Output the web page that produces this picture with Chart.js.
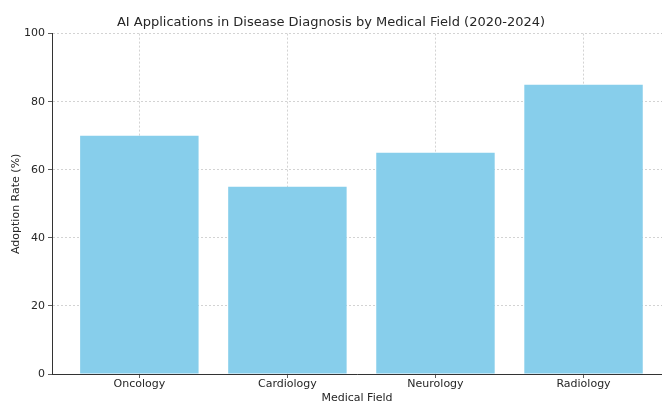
<!DOCTYPE html>
<html>
<head>
<meta charset="utf-8">
<script src="https://cdn.jsdelivr.net/npm/chart.js@4"></script>
<style>
  html, body { margin: 0; padding: 0; background: #fff; }
  #wrap { width: 662px; height: 402px; }
</style>
</head>
<body>
<div id="wrap"><canvas id="chart" width="662" height="402"></canvas></div>
<script>
// --- data ---
const fields = ['Oncology', 'Cardiology', 'Neurology', 'Radiology'];
const adoptionRate = [70, 55, 65, 85];
const yTicks = [0, 20, 40, 60, 80, 100];

const FONT = "'DejaVu Sans', sans-serif";
const gridStyle = {
    color: 'rgba(176,176,176,0.7)',
    lineWidth: 0.8,
    offset: false,
    tickColor: '#333',
    tickLength: 4,
    tickBorderDash: []
};
// v4: border.dash is what dashes the grid lines
const borderStyle = { color: '#333', width: 1, dash: [2, 2] };

new Chart(document.getElementById('chart'), {
    type: 'bar',
    data: {
        datasets: [{
            data: fields.map((f, i) => ({ x: i, y: adoptionRate[i] })),
            backgroundColor: '#87CEEB',
            borderWidth: 0,
            categoryPercentage: 0.8,
            barPercentage: 1.0
        }]
    },
    options: {
        responsive: false,
        animation: false,
        layout: { padding: { top: 0, right: 0, bottom: 0, left: 0 } },
        plugins: {
            legend: { display: false },
            tooltip: { enabled: false },
            title: {
                display: true,
                text: 'AI Applications in Disease Diagnosis by Medical Field (2020-2024)',
                color: '#262626',
                font: { family: FONT, size: 13, weight: 'normal' },
                padding: { top: 15, bottom: 3 }
            }
        },
        scales: {
            x: {
                type: 'linear',
                min: -0.59,
                max: 3.53,
                offset: false,
                z: 1,
                grid: gridStyle,
                border: borderStyle,
                ticks: {
                    stepSize: 1,
                    includeBounds: false,
                    autoSkip: false,
                    maxRotation: 0,
                    color: '#262626',
                    font: { family: FONT, size: 11 },
                    padding: 0,
                    callback: v => Number.isInteger(v) && fields[v] !== undefined ? fields[v] : ''
                },
                title: {
                    display: true,
                    text: 'Medical Field',
                    color: '#262626',
                    font: { family: FONT, size: 11 },
                    padding: { top: 0, bottom: -3 }
                },
                afterFit: s => { s.height = 28; }
            },
            y: {
                min: 0,
                max: 100,
                z: 1,
                grid: gridStyle,
                border: borderStyle,
                afterBuildTicks: s => { s.ticks = yTicks.map(v => ({ value: v })); },
                ticks: {
                    color: '#262626',
                    font: { family: FONT, size: 11 },
                    padding: 3
                },
                title: {
                    display: true,
                    text: 'Adoption Rate (%)',
                    color: '#262626',
                    font: { family: FONT, size: 11 },
                    padding: { top: 10, bottom: 0 }
                },
                afterFit: s => { s.width = 52; }
            }
        }
    }
});
</script>
</body>
</html>
